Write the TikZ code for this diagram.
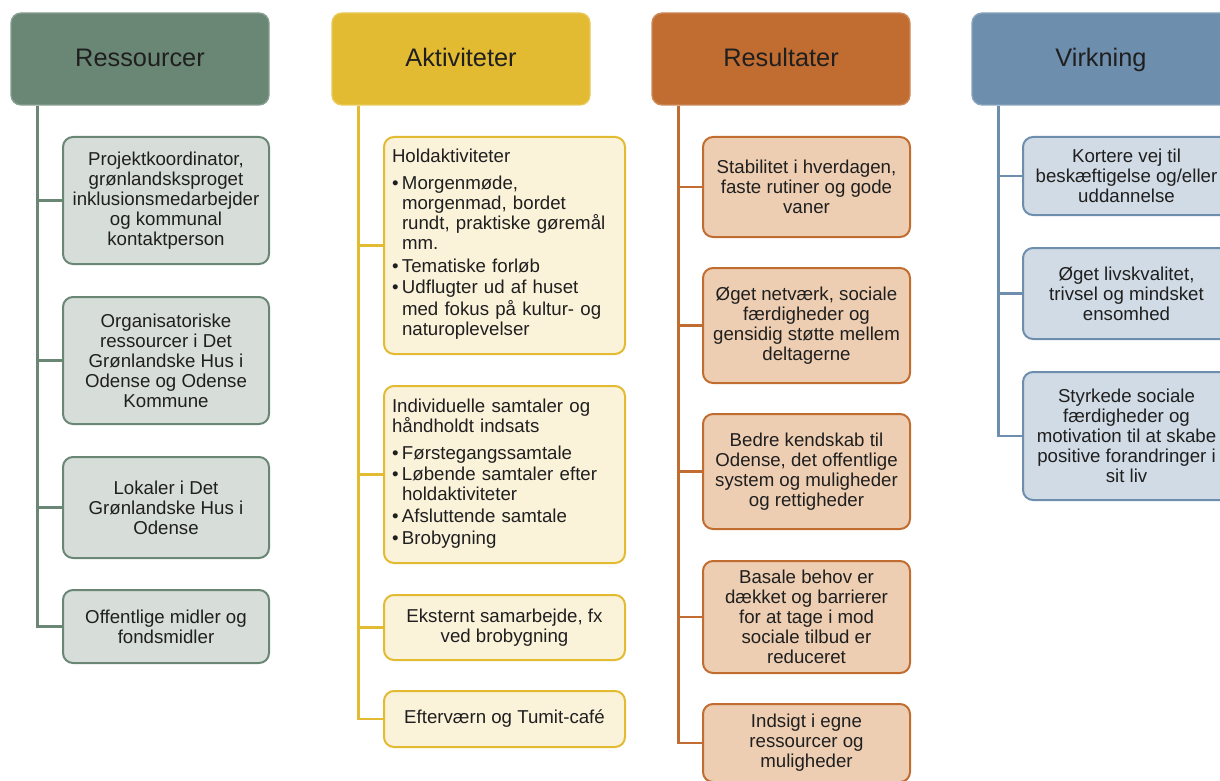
\documentclass[tikz,border=0pt]{standalone}
\usepackage{fontspec}
\setmainfont{Liberation Sans}

\definecolor{ressdark}{RGB}{106,135,118}
\definecolor{resslight}{RGB}{215,222,217}
\definecolor{aktdark}{RGB}{227,187,50}
\definecolor{aktlight}{RGB}{251,242,218}
\definecolor{resdark}{RGB}{193,109,49}
\definecolor{reslight}{RGB}{238,206,178}
\definecolor{virkdark}{RGB}{109,142,173}
\definecolor{virklight}{RGB}{209,219,229}

% bullet item with hanging indent
\newcommand\pkt[1]{\par\vspace{0.8pt}\noindent\makebox[7.5pt][l]{\textbullet}%
  \parbox[t]{161pt}{\raggedright\strut #1\strut}}

\begin{document}
\begin{tikzpicture}[x=0.75pt,y=-0.75pt]
\tikzstyle{every node}=[font=\fontsize{14}{15}\selectfont,text=black!88]
\tikzstyle{headbox}=[rounded corners=7.5pt,line width=1pt,minimum width=193.5pt,
  minimum height=69pt,text height=14pt,text depth=2pt,font=\fontsize{19}{22}\selectfont]
\tikzstyle{subbox}=[rounded corners=7.5pt,line width=1.5pt,align=center,inner sep=2pt]
\tikzstyle{listbox}=[subbox,align=left,text width=168.75pt,inner xsep=6pt,minimum width=180.75pt]
\tikzstyle{tree}=[line width=1.75pt]

% page size
\clip (0,0) rectangle (1220,781);

%
% Ressourcer
%
\node[headbox,fill=ressdark,draw=ressdark!80!white] (r0) at (140,59) {Ressourcer};
\tikzstyle{rbox}=[subbox,fill=resslight,draw=ressdark,minimum width=154.5pt]
\node[rbox,minimum height=95.25pt] (r1) at (166,200.5)
  {Projektkoordinator,\\ grønlandsksproget\\ inklusionsmedarbejder\\ og kommunal\\ kontaktperson};
\node[rbox,minimum height=95.25pt] (r2) at (166,360.5)
  {Organisatoriske\\ ressourcer i Det\\ Grønlandske Hus i\\ Odense og Odense\\ Kommune};
\node[rbox,minimum height=75.75pt] (r3) at (166,507.5)
  {Lokaler i Det\\ Grønlandske Hus i\\ Odense};
\node[rbox,minimum height=54.75pt] (r4) at (166,626.5)
  {Offentlige midler og\\ fondsmidler};

% Draw the tree line
\coordinate (rs) at ([xshift=20.25pt]r0.south west);
\foreach \i in {1,...,4}
  \draw[tree,ressdark] (rs) |- (r\i.west);

%
% Aktiviteter
%
\node[headbox,fill=aktdark,draw=aktdark!80!white] (a0) at (461,59) {Aktiviteter};
\tikzstyle{abox}=[fill=aktlight,draw=aktdark]
\node[listbox,abox,minimum height=162.75pt] (a1) at (504.5,245.5)
  {Holdaktiviteter\par\vspace{4.5pt}
   \pkt{Morgenmøde,\\ morgenmad, bordet\\ rundt, praktiske gøremål\\ mm.}
   \pkt{Tematiske forløb}
   \pkt{Udflugter ud af huset\\ med fokus på kultur- og\\ naturoplevelser}};
\node[listbox,abox,minimum height=132.75pt] (a2) at (504.5,474.5)
  {Individuelle samtaler og\\ håndholdt indsats\par\vspace{4.5pt}
   \pkt{Førstegangssamtale}
   \pkt{Løbende samtaler efter\\ holdaktiviteter}
   \pkt{Afsluttende samtale}
   \pkt{Brobygning}};
\node[subbox,abox,minimum width=180.75pt,minimum height=48.75pt] (a3) at (504.5,627.5)
  {Eksternt samarbejde, fx\\ ved brobygning};
\node[subbox,abox,minimum width=180.75pt,minimum height=42pt] (a4) at (504.5,719)
  {Efterværn og Tumit-café};

% Draw the tree line
\coordinate (as) at ([xshift=20.25pt]a0.south west);
\foreach \i in {1,...,4}
  \draw[tree,aktdark] (as) |- (a\i.west);

%
% Resultater
%
\node[headbox,fill=resdark,draw=resdark!80!white] (u0) at (781,59) {Resultater};
\tikzstyle{ubox}=[subbox,fill=reslight,draw=resdark,minimum width=155.25pt]
\node[ubox,minimum height=75pt] (u1) at (806.5,187)
  {Stabilitet i hverdagen,\\ faste rutiner og gode\\ vaner};
\node[ubox,minimum height=86.25pt] (u2) at (806.5,325.5)
  {Øget netværk, sociale\\ færdigheder og\\ gensidig støtte mellem\\ deltagerne};
\node[ubox,minimum height=86.25pt] (u3) at (806.5,471.5)
  {Bedre kendskab til\\ Odense, det offentlige\\ system og muligheder\\ og rettigheder};
\node[ubox,minimum height=84pt] (u4) at (806.5,617)
  {Basale behov er\\ dækket og barrierer\\ for at tage i mod\\ sociale tilbud er\\ reduceret};
\node[ubox,minimum height=58.5pt] (u5) at (806.5,743)
  {Indsigt i egne\\ ressourcer og\\ muligheder};

% Draw the tree line
\coordinate (us) at ([xshift=20.25pt]u0.south west);
\foreach \i in {1,...,5}
  \draw[tree,resdark] (us) |- (u\i.west);

%
% Virkning
%
\node[headbox,fill=virkdark,draw=virkdark!80!white] (v0) at (1101,59) {Virkning};
\tikzstyle{vbox}=[subbox,fill=virklight,draw=virkdark,minimum width=155.25pt]
\node[vbox,minimum height=58.5pt] (v1) at (1126.5,176)
  {Kortere vej til\\ beskæftigelse og/eller\\ uddannelse};
\node[vbox,minimum height=68.25pt] (v2) at (1126.5,293.5)
  {Øget livskvalitet,\\ trivsel og mindsket\\ ensomhed};
\node[vbox,minimum height=96pt] (v3) at (1126.5,436)
  {Styrkede sociale\\ færdigheder og\\ motivation til at skabe\\ positive forandringer i\\ sit liv};

% Draw the tree line
\coordinate (vs) at ([xshift=20.25pt]v0.south west);
\foreach \i in {1,...,3}
  \draw[tree,virkdark] (vs) |- (v\i.west);

\end{tikzpicture}
\end{document}
